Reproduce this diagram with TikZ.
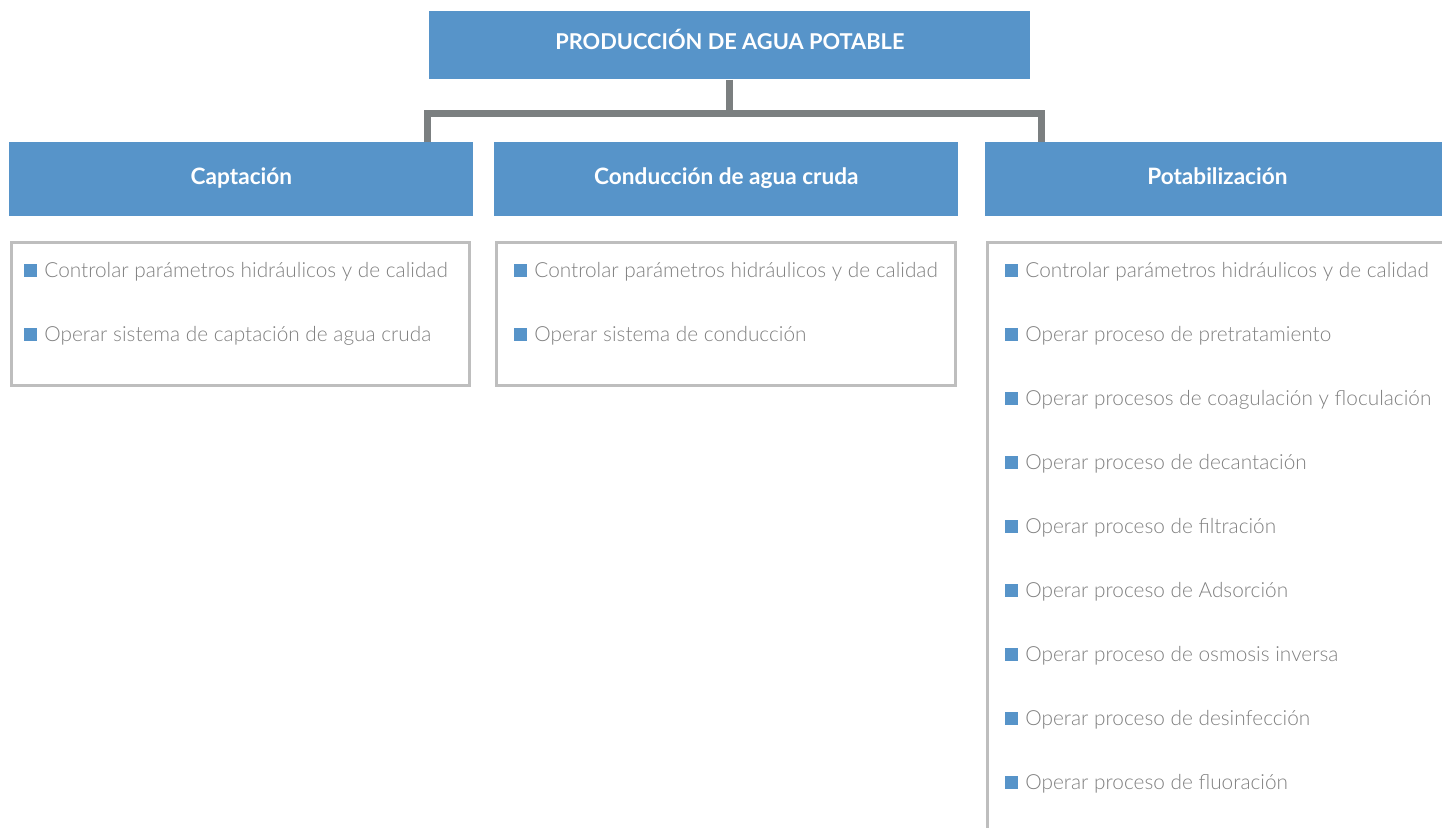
\documentclass[tikz,border=0pt]{standalone}
\usepackage{fontspec}
\setmainfont{Lato}
\newfontfamily\lightfont{Lato Light}
\usepackage{tikz}
\usetikzlibrary{positioning}

\begin{document}
\begin{tikzpicture}[x=0.5pt,y=-0.5pt,
  head/.style={fill=azul,text=white,inner sep=0,anchor=north west,
    text height=8pt,text depth=3pt,font=\bfseries\fontsize{11.3}{13}\selectfont},
  caja/.style={draw=borde,line width=1.5pt,inner sep=0,anchor=north west},
  item/.style={anchor=base west,inner sep=0,text=texto,
    font=\lightfont\fontsize{10.4}{12}\selectfont},
  conn/.style={draw=gris,line width=3.5pt}]
\definecolor{azul}{HTML}{5794C9}
\definecolor{gris}{HTML}{7B7F80}
\definecolor{borde}{HTML}{BEBEBE}
\definecolor{texto}{HTML}{808080}
\newcommand{\bul}{{\color{azul}\rule{6.5pt}{6.5pt}}\hspace{3.5pt}}
\path[use as bounding box] (0,0) rectangle (1442,827);
\clip (0,0) rectangle (1442,827);

% title and the three stages
\node[head,minimum width=300.5pt,minimum height=34pt,text depth=4.2pt,
  font=\bfseries\fontsize{10.9}{13}\selectfont] (top) at (429,11) {PRODUCCIÓN DE AGUA POTABLE};
\node[head,minimum width=232pt,minimum height=37pt] (cap) at (9,142) {Captación};
\node[head,minimum width=232pt,minimum height=37pt] (cond) at (494,142) {Conducción de agua cruda};
\node[head,minimum width=232pt,minimum height=37pt] (pot) at (985,142) {Potabilización};

% connector
\coordinate (hub) at (725,113);
\coordinate (jl) at (427,142);
\coordinate (jr) at (1041,142);
\draw[conn] (top.south) -- (top.south |- hub);
\draw[conn] (jl) |- (hub) -| (jr);

% boxes
\node[caja,minimum width=229pt,minimum height=71.5pt] (b1) at (10,241) {};
\node[caja,minimum width=229.5pt,minimum height=71.5pt] (b2) at (495,241) {};
\node[caja,minimum width=240pt,minimum height=320pt] (b3) at (986,241) {};

\node[item] (c1) at (24,277) {\bul Controlar parámetros hidráulicos y de calidad};
\node[item] (c2) at (24,341) {\bul Operar sistema de captación de agua cruda};
\node[item] (d1) at (514,277) {\bul Controlar parámetros hidráulicos y de calidad};
\node[item] (d2) at (514,341) {\bul Operar sistema de conducción};
\foreach \txt [count=\k] in {Controlar parámetros hidráulicos y de calidad,
  Operar proceso de pretratamiento,
  Operar procesos de coagulación y floculación,
  Operar proceso de decantación,
  Operar proceso de filtración,
  Operar proceso de Adsorción,
  Operar proceso de osmosis inversa,
  Operar proceso de desinfección,
  Operar proceso de fluoración}
  {  \node[item] (p\k) at (1005,277+64*\k-64) {\bul \txt};}
\end{tikzpicture}
\end{document}
